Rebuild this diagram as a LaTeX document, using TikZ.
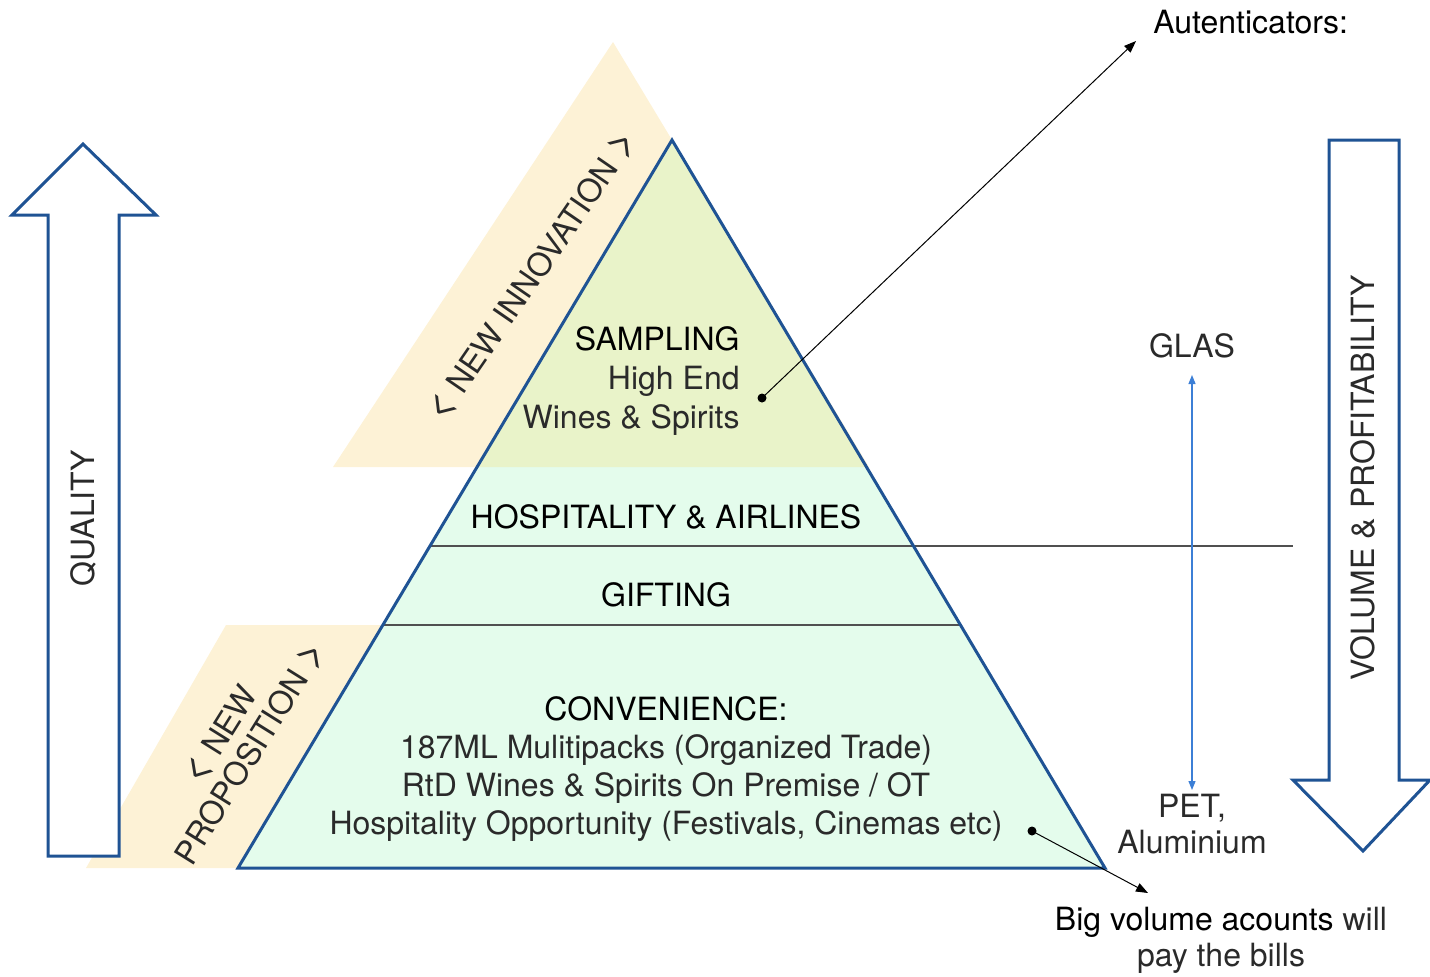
\documentclass[tikz,border=0pt]{standalone}
\usepackage{fontspec}
\setmainfont{TeX Gyre Heros}
\usetikzlibrary{arrows.meta}
\definecolor{beige}{HTML}{FDF2D6}
\definecolor{topgreen}{HTML}{E9F3C9}
\definecolor{mint}{HTML}{E4FCEC}
\definecolor{dkblue}{HTML}{1F5394}
\definecolor{ltblue}{HTML}{3C7FD6}
\definecolor{divgray}{HTML}{505050}
\definecolor{lighttext}{HTML}{2A2A2A}
\newcommand{\bigless}{{\fontsize{21}{19}\selectfont <}}
\newcommand{\bigmore}{{\fontsize{21}{19}\selectfont >}}
\begin{document}
\begin{tikzpicture}[x=0.5pt,y=-0.5pt,
  every node/.style={inner sep=0pt, font=\fontsize{16}{19}\selectfont},
  strong/.style={text=black},
  light/.style={text=lighttext},
  blockarrow/.style={draw=dkblue, line width=1.5pt, fill=white, line join=miter},
  pyrline/.style={draw=dkblue, line width=1.5pt, line join=miter},
  divider/.style={draw=divgray, line width=0.65pt},
  pointer/.style={draw=black, line width=0.5pt, -{Triangle[length=6pt,width=4.5pt]}},
  dot/.style={circle, fill=black, minimum size=4.5pt, inner sep=0pt},
  bothway/.style={draw=ltblue, line width=0.6pt, {Triangle[length=4.5pt,width=3.5pt]}-{Triangle[length=4.5pt,width=3.5pt]}}
]
\useasboundingbox (0,0) rectangle (1430,976);

% beige background shapes
\fill[beige] (613,42) -- (333,467) -- (869,467) -- cycle;
\fill[beige] (226,625) -- (383,625) -- (238,868) -- (86,868) -- cycle;

% pyramid
\fill[mint] (672,140) -- (238,868) -- (1105,868) -- cycle;
\fill[topgreen] (672,140) -- (477.1,467) -- (866.5,467) -- cycle;
\draw[divider] (430,546) -- (1293,546);
\draw[divider] (382.9,625) -- (960.5,625);
\draw[pyrline] (672,140) -- (238,868) -- (1105,868) -- cycle;

% block arrows
\draw[blockarrow] (48,856) -- (48,215) -- (12,215) -- (83,144) -- (156,215) -- (119,215) -- (119,856) -- cycle;
\draw[blockarrow] (1329,140) -- (1399,140) -- (1399,780) -- (1430,780) -- (1363,851) -- (1293,780) -- (1329,780) -- cycle;

\node[light, rotate=90] (quality) at (83,518) {QUALITY};
\node[light, rotate=90] (volume) at (1363,478) {VOLUME \& PROFITABILITY};

% rotated side labels
\node[light, rotate=55.5] (innov) at (533,276) {\bigless\ NEW INNOVATION \bigmore};
\node[light, rotate=58, align=center, font=\fontsize{16}{17.5}\selectfont] (propo) at (236,744) {\bigless\ NEW\\PROPOSITION \bigmore};

% pyramid texts
\node[strong, anchor=base east] (sampling) at (740,350) {SAMPLING};
\node[light, anchor=base east] (highend) at (740,389) {High End};
\node[light, anchor=base east] (wines) at (740,428) {Wines \& Spirits};
\node[strong, anchor=base] (hosp) at (666,528) {HOSPITALITY \& AIRLINES};
\node[strong, anchor=base] (gift) at (666,606) {GIFTING};
\node[strong, anchor=base] (conv) at (666,720) {CONVENIENCE:};
\node[light, anchor=base] (c1) at (666,758) {187ML Mulitipacks (Organized Trade)};
\node[light, anchor=base] (c2) at (666,796) {RtD Wines \& Spirits On Premise / OT};
\node[light, anchor=base] (c3) at (666,834) {Hospitality Opportunity (Festivals, Cinemas etc)};

% right side texts
\node[strong, anchor=base west] (auth) at (1153,33) {Autenticators:};
\node[light, anchor=base] (glas) at (1192,357) {GLAS};
\node[light, anchor=base] (pet) at (1192,817) {PET,};
\node[light, anchor=base] (alu) at (1192,853) {Aluminium};
\node[strong, anchor=base] (big) at (1221,930) {Big volume acounts \textcolor{lighttext}{will}};
\node[light, anchor=base] (bills) at (1221,966) {pay the bills};

% connectors
\node[dot] (d1) at (762,398) {};
\coordinate (t1) at (1136,41);
\draw[pointer] (d1.center) -- (t1);
\node[dot] (d2) at (1032,831) {};
\coordinate (t2) at (1148,893);
\draw[pointer] (d2.center) -- (t2);
\coordinate (gtop) at (1192,375);
\coordinate (gbot) at (1192,790);
\draw[bothway] (gtop) -- (gbot);
\end{tikzpicture}
\end{document}
